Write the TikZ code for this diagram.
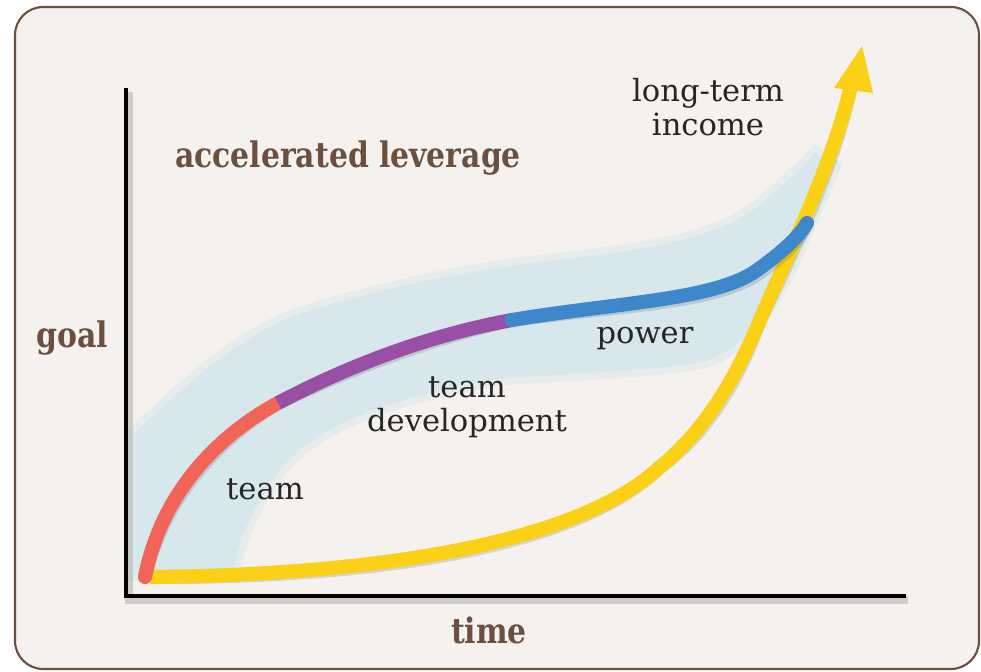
\documentclass[tikz,border=0pt]{standalone}
\usepackage{fontspec}
\setmainfont{DejaVu Serif}
\newfontfamily\headfont{DejaVu Serif}[FakeStretch=0.85]
\usetikzlibrary{positioning}
\definecolor{frameBrown}{HTML}{6B4F3F}
\definecolor{paper}{HTML}{F4F1EE}
\definecolor{bandBlue}{HTML}{D7E7EB}
\definecolor{teamRed}{HTML}{F26358}
\definecolor{devPurple}{HTML}{9A4FA6}
\definecolor{powerBlue}{HTML}{3D87CA}
\definecolor{incomeYellow}{HTML}{FBD118}
\tikzset{
  head/.style={text=frameBrown,font=\headfont\bfseries\fontsize{20}{22}\selectfont},
  phase/.style={text=black!85,font=\fontsize{17.4}{19.5}\selectfont,align=center,inner sep=0pt},
  curve/.style={line width=8pt},
  shadow/.style={line width=8pt,draw=black,opacity=.12,shift={(2,3)}},
  axis/.style={line width=2.3pt,black}
}
\begin{document}
\begin{tikzpicture}[x=0.02cm,y=-0.02cm]
\useasboundingbox (0,0) rectangle (981,672);
\filldraw[fill=paper,draw=frameBrown,line width=1.2pt,rounded corners=16pt] (15,7) rectangle (979,669);
% shaded band round the s-curve
\filldraw[fill=bandBlue,draw=bandBlue!50!paper,line width=4pt,line join=round]
  (130,578) -- (130,433) .. controls (170,395) and (230,335) .. (300,310)
  .. controls (380,285) and (470,265) .. (570,255) .. controls (650,245) and (720,235) .. (760,200)
  .. controls (790,175) and (805,160) .. (815,148) -- (838,165) -- (800,255)
  .. controls (770,320) and (740,360) .. (693,367) .. controls (640,375) and (570,377) .. (500,382)
  .. controls (420,395) and (330,420) .. (287,467) .. controls (260,500) and (240,540) .. (237,578) -- cycle;
% axes
\draw[axis,opacity=.15,line width=4pt] (129,92) -- (129,600) -- (908,600);
\draw[axis] (126,88) -- (126,596) -- (906,596);
% yellow curve and arrow
\coordinate (start) at (150,577);
\coordinate (bend) at (660,467);
\coordinate (steep) at (760,320);
\coordinate (shaft) at (850,90);
\draw[shadow] (start) .. controls (350,575) and (570,550) .. (bend)
  .. controls (705,430) and (735,380) .. (steep) .. controls (790,250) and (830,170) .. (shaft);
\draw[curve,incomeYellow] (start) .. controls (350,575) and (570,550) .. (bend)
  .. controls (705,430) and (735,380) .. (steep) .. controls (790,250) and (830,170) .. (shaft);
\fill[incomeYellow] (862,46) -- (834,88) -- (873,93) -- cycle;
% the s-curve
\coordinate (origin) at (145,577);
\coordinate (grown) at (278,403);
\coordinate (developed) at (512,320);
\coordinate (powered) at (807,223);
\draw[shadow,line cap=round] (origin) .. controls (160,500) and (210,440) .. (grown)
  .. controls (350,365) and (430,335) .. (developed)
  .. controls (620,302) and (720,300) .. (760,268) .. controls (785,250) and (800,235) .. (powered);
\draw[curve,teamRed,line cap=round] (origin) .. controls (160,500) and (210,440) .. (grown);
\draw[curve,devPurple] (grown) .. controls (350,365) and (430,335) .. (developed);
\draw[curve,powerBlue,line cap=round] (developed) .. controls (620,302) and (720,300) .. (760,268)
  .. controls (785,250) and (800,235) .. (powered);
% labels
\node[head] (lever) at (348,158) {accelerated leverage};
\node[head] (goal) at (72,338) {goal};
\node[head] (time) at (489,630) {time};
\node[phase] (team) at (265,489) {team};
\node[phase] (teamdev) at (467,407) {team\\development};
\node[phase] (power) at (645,339) {power};
\node[phase] (income) at (708,107) {long-term\\income};
\end{tikzpicture}
\end{document}
